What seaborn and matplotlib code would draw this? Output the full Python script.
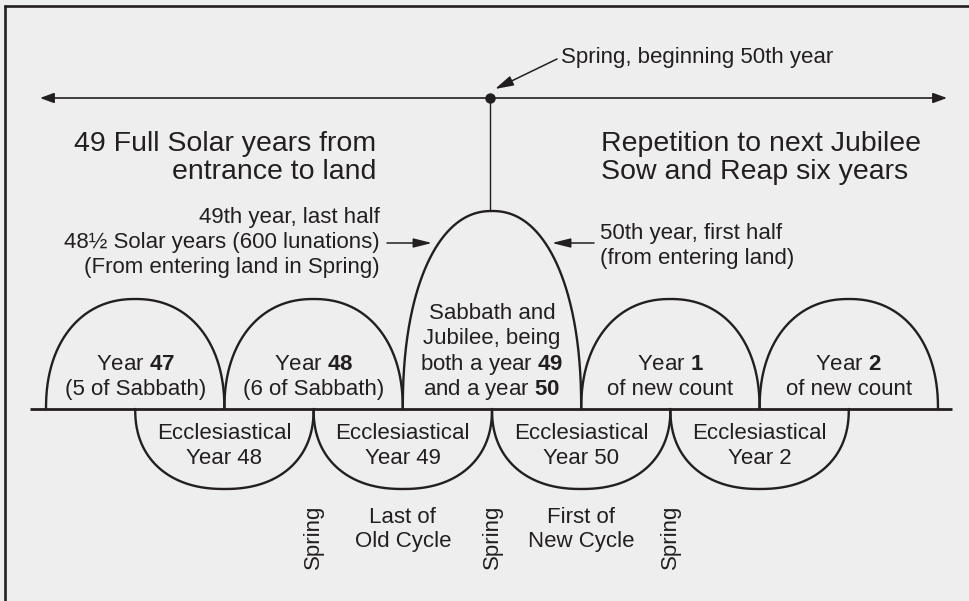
import matplotlib
matplotlib.use("Agg")
import matplotlib.pyplot as plt
import numpy as np
import pandas as pd
import seaborn as sns

# diagram content
upper_years = ["47", "48", "49/50", "1", "2"]
upper_heights = [110, 110, 198, 110, 110]
upper_labels = [
    ["Year $\\mathbf{47}$", "(5 of Sabbath)"],
    ["Year $\\mathbf{48}$", "(6 of Sabbath)"],
    ["Sabbath and", "Jubilee, being", "both a year $\\mathbf{49}$", "and a year $\\mathbf{50}$"],
    ["Year $\\mathbf{1}$", "of new count"],
    ["Year $\\mathbf{2}$", "of new count"],
]
lower_years = ["48", "49", "50", "2"]
lower_depth = 80
lower_labels = [["Ecclesiastical", "Year " + y] for y in lower_years]
bottom_notes = ["Spring", ["Last of", "Old Cycle"], "Spring", ["First of", "New Cycle"], "Spring"]

top_left = ["49 Full Solar years from", "entrance to land"]
top_right = ["Repetition to next Jubilee", "Sow and Reap six years"]
note_left = ["49th year, last half", "48\u00bd Solar years (600 lunations)", "(From entering land in Spring)"]
note_right = ["50th year, first half", "(from entering land)"]
note_top = "Spring, beginning 50th year"

# layout
x0 = 46
w = 178.4
base_y = 409
ink = "#231f20"
bg = "#eeeeee"

sns.set_theme(style="white")
plt.rcParams["font.family"] = ["Liberation Sans", "DejaVu Sans"]
plt.rcParams["mathtext.fontset"] = "custom"
plt.rcParams["mathtext.rm"] = "Liberation Sans"
plt.rcParams["mathtext.bf"] = "Liberation Sans:bold"

fig = plt.figure(figsize=(9.7, 6.01), dpi=100, facecolor=bg)
ax = fig.add_axes([0, 0, 1, 1])
ax.set_facecolor(bg)
ax.set_xlim(0, 970)
ax.set_ylim(601, 0)
ax.axis("off")


def arch(cx, half, h, n=2.2):
    # superellipse half, a touch fuller than a plain ellipse
    t = np.linspace(0, np.pi, 300)
    c, s = np.cos(t), np.sin(t)
    xs = cx + half * np.sign(c) * np.abs(c) ** (2 / n)
    ys = base_y - h * np.abs(s) ** (2 / n)
    return xs, ys


rows = []
for i, h in enumerate(upper_heights):
    xs, ys = arch(x0 + w * (i + 0.5), w / 2, h)
    rows.append(pd.DataFrame({"x": xs, "y": ys, "arch": "u" + str(i)}))
for i in range(len(lower_years)):
    xs, ys = arch(x0 + w * (i + 1), w / 2, -lower_depth, n=2.25)
    rows.append(pd.DataFrame({"x": xs, "y": ys, "arch": "l" + str(i)}))
arches = pd.concat(rows, ignore_index=True)
sns.lineplot(data=arches, x="x", y="y", units="arch", estimator=None, sort=False,
             color=ink, lw=1.7, ax=ax, legend=False)

# baseline
ax.plot([30, 952], [base_y, base_y], color=ink, lw=2.0, solid_capstyle="butt")

# frame (top and left edges)
ax.plot([4, 970], [6, 6], color=ink, lw=1.9, solid_capstyle="butt")
ax.plot([5, 5], [5, 601], color=ink, lw=1.9, solid_capstyle="butt")

# time line with arrows
cx = x0 + w * 2.5
ax.annotate("", xy=(40, 98), xytext=(947, 98),
            arrowprops=dict(arrowstyle="<|-|>,head_length=0.6,head_width=0.22",
                            color=ink, lw=1.2, shrinkA=0, shrinkB=0, mutation_scale=14))
ax.plot([cx - 1.5, cx - 1.5], [98, base_y - upper_heights[2]], color=ink, lw=1.0)
ax.plot([cx - 1.5], [98], "o", color=ink, ms=6.5)

tk = dict(color=ink, fontsize=16, va="baseline")
big = dict(color=ink, fontsize=20.5, va="baseline")

# top annotation
ax.text(561, 63, note_top, ha="left", **tk)
ax.annotate("", xy=(495, 89), xytext=(557, 59),
            arrowprops=dict(arrowstyle="-|>,head_length=0.8,head_width=0.22",
                            color=ink, lw=1.1, shrinkA=0, shrinkB=0, mutation_scale=14))

for t, yb in zip(top_left, [151, 179]):
    ax.text(376, yb, t, ha="right", **big)
for t, yb in zip(top_right, [151, 179]):
    ax.text(601, yb, t, ha="left", **big)

for t, yb in zip(note_left, [223, 248, 273]):
    ax.text(380, yb, t, ha="right", **tk)
ax.annotate("", xy=(432, 243), xytext=(387, 243),
            arrowprops=dict(arrowstyle="-|>,head_length=0.8,head_width=0.2",
                            color=ink, lw=1.1, shrinkA=0, shrinkB=0, mutation_scale=14))
for t, yb in zip(note_right, [239, 264]):
    ax.text(600, yb, t, ha="left", **tk)
ax.annotate("", xy=(552, 243), xytext=(594, 243),
            arrowprops=dict(arrowstyle="-|>,head_length=0.8,head_width=0.2",
                            color=ink, lw=1.1, shrinkA=0, shrinkB=0, mutation_scale=14))

# arch labels
for i, lines in enumerate(upper_labels):
    ys = [395 - 25.3 * k for k in range(len(lines))][::-1]
    for t, yb in zip(lines, ys):
        ax.text(x0 + w * (i + 0.5), yb, t, ha="center", **tk)
for i, lines in enumerate(lower_labels):
    for t, yb in zip(lines, [439, 464]):
        ax.text(x0 + w * (i + 1), yb, t, ha="center", **tk)

# bottom notes
for k, note in enumerate(bottom_notes):
    xc = x0 + w * (1.5 + 0.5 * k)
    if isinstance(note, str):
        ax.text(xc, 537, note, ha="center", va="center", rotation=90, color=ink, fontsize=16)
    else:
        for t, yb in zip(note, [523, 547]):
            ax.text(xc, yb, t, ha="center", **tk)

fig.savefig("out.png", dpi=100, facecolor=bg)
